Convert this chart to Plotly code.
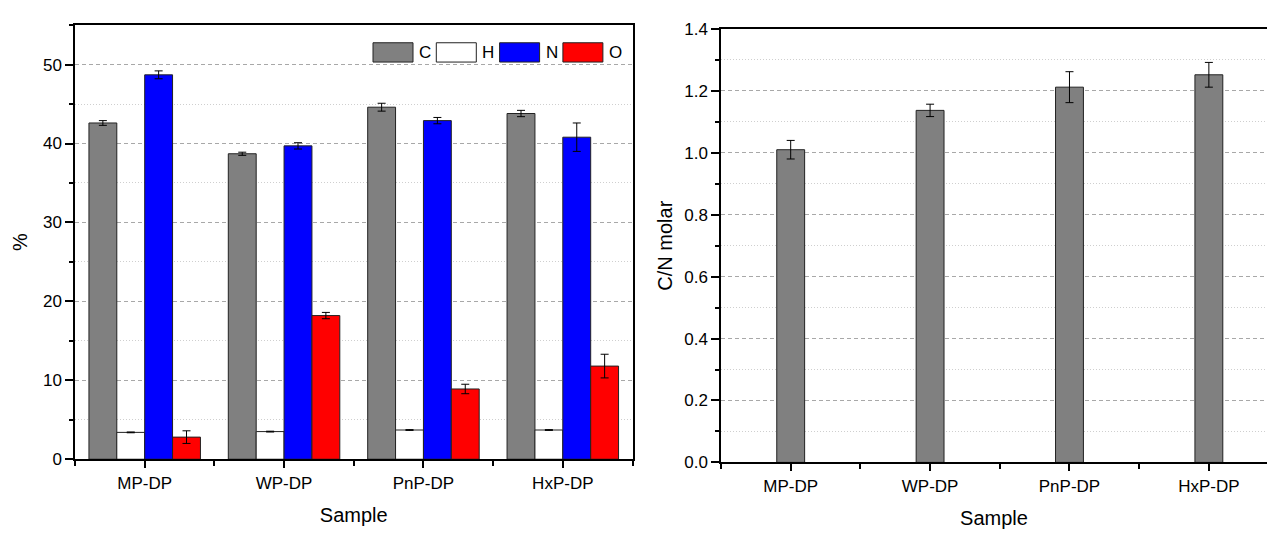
import plotly.graph_objects as go

# ---------------- data ----------------
samples = ["MP-DP", "WP-DP", "PnP-DP", "HxP-DP"]
elements = ["C", "H", "N", "O"]
C_pct = [42.6, 38.7, 44.6, 43.8]
C_err = [0.3, 0.2, 0.5, 0.4]
H_pct = [3.4, 3.5, 3.7, 3.7]
H_err = [0.05, 0.05, 0.05, 0.05]
N_pct = [48.7, 39.7, 42.9, 40.8]
N_err = [0.5, 0.4, 0.4, 1.8]
O_pct = [2.8, 18.2, 8.9, 11.8]
O_err = [0.8, 0.4, 0.6, 1.5]
CN_molar = [1.01, 1.137, 1.212, 1.252]
CN_err = [0.03, 0.02, 0.05, 0.04]

left_y_ticks = [0, 10, 20, 30, 40, 50]
right_y_ticks = [0.0, 0.2, 0.4, 0.6, 0.8, 1.0, 1.2, 1.4]

# ---------------- style ----------------
W, H = 1267, 538
colors = {"C": "#808080", "H": "#ffffff", "N": "#0000ff", "O": "#ff0000"}
outline = "#222222"
font_family = "Liberation Sans, Arial, sans-serif"
tick_font = dict(family=font_family, size=17, color="black")
title_font = dict(family=font_family, size=20, color="black")

xpos = list(range(len(samples)))

series = {"C": (C_pct, C_err), "H": (H_pct, H_err), "N": (N_pct, N_err), "O": (O_pct, O_err)}

fig = go.Figure()
for el in elements:
    vals, errs = series[el]
    fig.add_trace(go.Bar(
        x=xpos, y=vals, name=el,
        marker=dict(color=colors[el], line=dict(color=outline, width=1)),
        error_y=dict(type="data", array=errs, color="black", thickness=1, width=4, visible=True),
        xaxis="x", yaxis="y", offsetgroup=el, showlegend=False,
    ))

fig.add_trace(go.Bar(
    x=xpos, y=CN_molar, name="C/N",
    width=0.2,
    marker=dict(color=colors["C"], line=dict(color=outline, width=1)),
    error_y=dict(type="data", array=CN_err, color="black", thickness=1, width=4, visible=True),
    xaxis="x2", yaxis="y2", showlegend=False,
))

def px_x(p):
    return p / W

def px_y(p):
    return 1 - p / H

grid_major = dict(showgrid=True, gridcolor="#a8a8a8", griddash="4px,3px", gridwidth=1)

fig.update_layout(
    width=W, height=H,
    margin=dict(l=0, r=0, t=0, b=0),
    paper_bgcolor="white", plot_bgcolor="white",
    barmode="group", bargap=0.2, bargroupgap=0,
    xaxis=dict(
        domain=[px_x(75), px_x(632.5)], anchor="y",
        range=[-0.5, 3.5], tickmode="array", tickvals=xpos, ticktext=samples,
        ticks="outside", ticklen=7, tickwidth=1.5, tickcolor="black",
        showline=True, linecolor="black", linewidth=2, mirror=True,
        showgrid=False, zeroline=False, tickfont=tick_font,
        minor=dict(tickmode="array", tickvals=[-0.5, 0.5, 1.5, 2.5, 3.5],
                   ticks="outside", ticklen=5, tickwidth=1.5, tickcolor="black", showgrid=False),
        title=dict(text="Sample", font=title_font, standoff=16),
    ),
    yaxis=dict(
        domain=[px_y(466.7), px_y(16.7)], anchor="x",
        range=[0, 55], tickmode="array", tickvals=left_y_ticks,
        ticks="outside", ticklen=8, tickwidth=1.5, tickcolor="black",
        showline=True, linecolor="black", linewidth=1.5, mirror=True,
        zeroline=False, tickfont=tick_font, **grid_major,
        minor=dict(tickmode="array", tickvals=[5, 15, 25, 35, 45, 55],
                   ticks="outside", ticklen=4, tickwidth=1.5, tickcolor="black",
                   showgrid=True, gridcolor="#cfcfcf", griddash="1px,2px", gridwidth=1),
        title=dict(text="%", font=title_font, standoff=10),
    ),
    xaxis2=dict(
        domain=[px_x(721), 1.0], anchor="y2",
        range=[-0.5, 3.417], tickmode="array", tickvals=xpos, ticktext=samples,
        ticks="outside", ticklen=7, tickwidth=1.5, tickcolor="black",
        showline=True, linecolor="black", linewidth=2, mirror=True,
        showgrid=False, zeroline=False, tickfont=tick_font,
        minor=dict(tickmode="array", tickvals=[-0.5, 0.5, 1.5, 2.5],
                   ticks="outside", ticklen=5, tickwidth=1.5, tickcolor="black", showgrid=False),
        title=dict(text="Sample", font=title_font, standoff=16),
    ),
    yaxis2=dict(
        domain=[px_y(470), px_y(20.7)], anchor="x2",
        range=[0, 1.4], tickmode="array", tickvals=right_y_ticks,
        ticktext=[f"{v:.1f}" for v in right_y_ticks],
        ticks="outside", ticklen=8, tickwidth=1.5, tickcolor="black",
        showline=True, linecolor="black", linewidth=1.5, mirror=False,
        zeroline=False, tickfont=tick_font, **grid_major,
        minor=dict(tickmode="array", tickvals=[0.1, 0.3, 0.5, 0.7, 0.9, 1.1, 1.3],
                   ticks="outside", ticklen=4, tickwidth=1.5, tickcolor="black",
                   showgrid=True, gridcolor="#cfcfcf", griddash="1px,2px", gridwidth=1),
        title=dict(text="C/N molar", font=title_font, standoff=6),
    ),
)

# ---------------- custom legend (large swatches) ----------------
legend_x0 = 373
legend_step = 63.3
sw_w, sw_h = 40, 20
sw_top = 35
for i, el in enumerate(elements):
    x0 = legend_x0 + i * legend_step
    fig.add_shape(type="rect", xref="paper", yref="paper",
                  x0=px_x(x0), x1=px_x(x0 + sw_w), y0=px_y(sw_top + sw_h), y1=px_y(sw_top),
                  fillcolor=colors[el], line=dict(color=outline, width=1))
    fig.add_annotation(xref="paper", yref="paper", x=px_x(x0 + sw_w + 4), y=px_y(sw_top + sw_h / 2),
                       text=el, showarrow=False, xanchor="left", yanchor="middle",
                       font=tick_font)

fig.write_html("out.html")
